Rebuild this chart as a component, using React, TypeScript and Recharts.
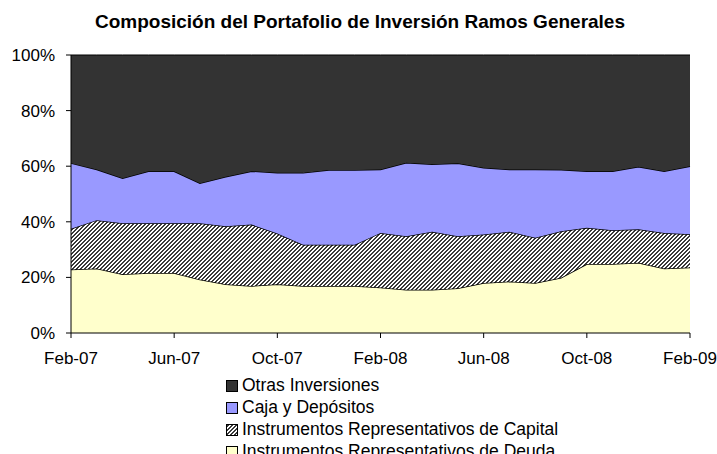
import React from "react";
import { AreaChart, Area, XAxis, YAxis } from "recharts";

const months = [
  "Feb-07", "Mar-07", "Apr-07", "May-07", "Jun-07", "Jul-07", "Aug-07", "Sep-07",
  "Oct-07", "Nov-07", "Dec-07", "Jan-08", "Feb-08", "Mar-08", "Apr-08", "May-08",
  "Jun-08", "Jul-08", "Aug-08", "Sep-08", "Oct-08", "Nov-08", "Dec-08", "Jan-09", "Feb-09",
];

const deuda = [
  22.8, 23.2, 21.1, 21.6, 21.6, 19.2, 17.5, 16.9, 17.5, 16.9, 16.9, 16.9, 16.4,
  15.6, 15.6, 16.1, 18.0, 18.5, 18.0, 19.9, 24.8, 24.8, 25.3, 23.2, 23.6,
];
const capital = [
  14.7, 17.4, 18.4, 17.9, 17.9, 20.3, 20.9, 22.1, 18.3, 14.8, 14.8, 14.8, 19.6,
  19.2, 20.8, 18.7, 17.4, 17.9, 16.3, 16.7, 13.1, 12.2, 12.0, 12.8, 11.9,
];
const caja = [
  23.6, 18.2, 16.2, 18.7, 18.7, 14.4, 17.8, 19.2, 21.8, 25.9, 26.9, 26.9, 22.8,
  26.4, 24.3, 26.3, 24.0, 22.4, 24.5, 22.1, 20.3, 21.2, 22.5, 22.2, 24.5,
];
const otras = [
  38.9, 41.2, 44.3, 41.8, 41.8, 46.1, 43.8, 41.8, 42.4, 42.4, 41.4, 41.4, 41.2,
  38.8, 39.3, 38.9, 40.6, 41.2, 41.2, 41.3, 41.8, 41.8, 40.2, 41.8, 40.0,
];

const xTicks = ["Feb-07", "Jun-07", "Oct-07", "Feb-08", "Jun-08", "Oct-08", "Feb-09"];
const yTicks = [0, 0.2, 0.4, 0.6, 0.8, 1];

const data = months.map((m, i) => ({
  month: m,
  deuda: deuda[i],
  capital: capital[i],
  caja: caja[i],
  otras: otras[i],
}));

const FONT = "Arial, 'Liberation Sans', sans-serif";

const legendItems = [
  { label: "Otras Inversiones", fill: "#333333" },
  { label: "Caja y Depósitos", fill: "#9999ff" },
  { label: "Instrumentos Representativos de Capital", fill: "url(#hatchLeg)" },
  { label: "Instrumentos Representativos de Deuda", fill: "#ffffcc" },
];

// 4x4 diagonal hatch, one pixel at a time
const hatchCells: [number, number][] = [];
for (let y = 0; y < 4; y++) {
  for (let x = 0; x < 4; x++) {
    if ((x + y) % 4 < 2) hatchCells.push([x, y]);
  }
}

const Hatch = ({ id }: { id: string }) => (
  <pattern id={id} patternUnits="userSpaceOnUse" width="4" height="4">
    <rect width="4" height="4" fill="#ffffff" />
    {hatchCells.map(([x, y]) => (
      <rect key={`${x}-${y}`} x={x} y={y} width="1" height="1" fill="#3a3a3a" shapeRendering="crispEdges" />
    ))}
  </pattern>
);

export default function App() {
  return (
    <div
      style={{
        position: "absolute",
        left: 0,
        top: 0,
        width: 717,
        height: 454,
        overflow: "hidden",
        background: "#fff",
        fontFamily: FONT,
      }}
    >
      <div
        style={{
          position: "absolute",
          top: 12,
          left: 0,
          width: 720,
          textAlign: "center",
          fontWeight: "bold",
          fontSize: 19,
          lineHeight: "19px",
          color: "#000",
          whiteSpace: "nowrap",
        }}
      >
        Composición del Portafolio de Inversión Ramos Generales
      </div>
      <AreaChart
        width={717}
        height={454}
        data={data}
        stackOffset="expand"
        margin={{ top: 55, right: 27, left: 0, bottom: 101 }}
      >
        <defs>
          <Hatch id="hatch" />
        </defs>
        <XAxis
          dataKey="month"
          ticks={xTicks}
          interval={0}
          height={20}
          tickSize={5}
          tickMargin={14}
          stroke="#000"
          tick={{ fill: "#000", fontSize: 17, fontFamily: FONT }}
        />
        <YAxis
          width={71}
          ticks={yTicks}
          domain={[0, 1]}
          tickFormatter={(v: number) => `${Math.round(v * 100)}%`}
          tickSize={5}
          tickMargin={11}
          stroke="#000"
          tick={{ fill: "#000", fontSize: 17, fontFamily: FONT }}
        />
        <Area
          type="linear"
          dataKey="deuda"
          stackId="1"
          stroke="#000"
          strokeWidth={1.5}
          fill="#ffffcc"
          fillOpacity={1}
          isAnimationActive={false}
        />
        <Area
          type="linear"
          dataKey="capital"
          stackId="1"
          stroke="#000"
          strokeWidth={1.5}
          fill="url(#hatch)"
          fillOpacity={1}
          isAnimationActive={false}
        />
        <Area
          type="linear"
          dataKey="caja"
          stackId="1"
          stroke="#000"
          strokeWidth={1.5}
          fill="#9999ff"
          fillOpacity={1}
          isAnimationActive={false}
        />
        <Area
          type="linear"
          dataKey="otras"
          stackId="1"
          stroke="#000"
          strokeWidth={1}
          fill="#333333"
          fillOpacity={1}
          isAnimationActive={false}
        />
      </AreaChart>
      <svg width={14} height={100} style={{ position: "absolute", left: 226, top: 370 }}>
        <defs>
          <Hatch id="hatchLeg" />
        </defs>
        {legendItems.map((it, i) => (
          <rect
            key={it.label}
            x={0.5}
            y={10.5 + i * 22}
            width={11}
            height={11}
            fill={it.fill}
            stroke="#000"
          />
        ))}
      </svg>
      {legendItems.map((it, i) => (
        <div
          key={it.label}
          style={{
            position: "absolute",
            left: 242,
            top: 374 + i * 22,
            fontSize: 17.5,
            lineHeight: "22px",
            color: "#000",
            whiteSpace: "nowrap",
          }}
        >
          {it.label}
        </div>
      ))}
    </div>
  );
}
